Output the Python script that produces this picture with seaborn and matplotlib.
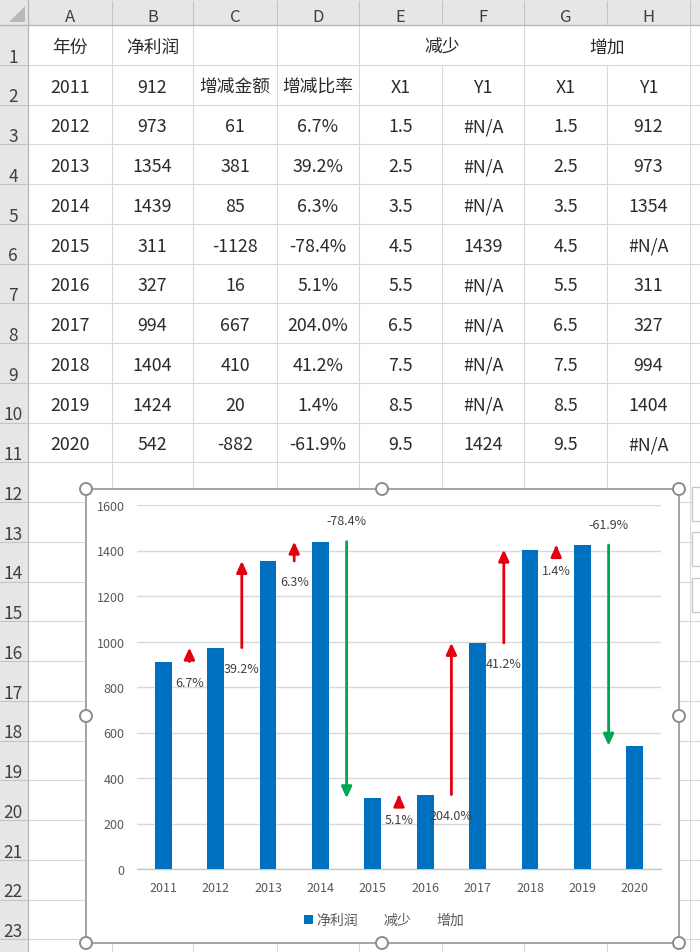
import matplotlib
matplotlib.use('Agg')
import matplotlib.pyplot as plt
import numpy as np
import pandas as pd
import seaborn as sns
from matplotlib.patches import Rectangle, Circle, Polygon, Patch
from matplotlib.lines import Line2D

# ---------------- data ----------------
years = [2011, 2012, 2013, 2014, 2015, 2016, 2017, 2018, 2019, 2020]
profit = [912, 973, 1354, 1439, 311, 327, 994, 1404, 1424, 542]
change_amt = [61, 381, 85, -1128, 16, 667, 410, 20, -882]
change_pct = ['6.7%', '39.2%', '6.3%', '-78.4%', '5.1%', '204.0%', '41.2%', '1.4%', '-61.9%']
x1 = [1.5, 2.5, 3.5, 4.5, 5.5, 6.5, 7.5, 8.5, 9.5]
dec_y1 = [None, None, None, 1439, None, None, None, None, 1424]
inc_y1 = [912, 973, 1354, None, 311, 327, 994, 1404, None]
col_letters = ['A', 'B', 'C', 'D', 'E', 'F', 'G', 'H']
row1_texts = ['年份', '净利润', '', '']
row1_merged = ['减少', '增加']
row2_texts = ['增减金额', '增减比率', 'X1', 'Y1', 'X1', 'Y1']
legend_labels = ['净利润', '减少', '增加']

# ---------------- style ----------------
W, H = 700, 953
sns.set_theme(style='white')
plt.rcParams['font.family'] = ['Noto Sans CJK SC', 'DejaVu Sans']

BLUE = '#0070c0'
RED = '#e3000f'
GREEN = '#00a650'
GRID = '#d9d9d9'
HDR_BG = '#e6e6e6'
HDR_LINE = '#c4c4c4'
CELL_TXT = '#2b2b2b'
HDR_TXT = '#404040'
CHART_TXT = '#595959'

fig = plt.figure(figsize=(W / 100, H / 100), dpi=100)
sheet = fig.add_axes([0, 0, 1, 1])
sheet.set_xlim(0, W)
sheet.set_ylim(H, 0)
sheet.axis('off')

col_edges = [28, 112, 193, 277, 359, 442, 524, 607, 690]
HEAD_H = 26
ROW_H = 39.75
N_ROWS = 24


def row_top(k):
    return HEAD_H + ROW_H * (k - 1)


# headers background
sheet.add_patch(Rectangle((0, 0), W, HEAD_H, facecolor=HDR_BG, edgecolor='none', zorder=1))
sheet.add_patch(Rectangle((0, 0), col_edges[0], H, facecolor=HDR_BG, edgecolor='none', zorder=1))
# corner triangle
sheet.add_patch(Polygon([[9, 23], [25, 23], [25, 7]], closed=True, facecolor='#b9b9b9',
                        edgecolor='none', zorder=2))

# grid lines
for k in range(1, N_ROWS + 1):
    yb = row_top(k) + ROW_H
    sheet.plot([col_edges[0], W], [yb, yb], color=GRID, lw=0.8, zorder=2)
    sheet.plot([0, col_edges[0]], [yb, yb], color=HDR_LINE, lw=0.8, zorder=2)
for j, xe in enumerate(col_edges[1:], start=1):
    ystart = HEAD_H
    if xe in (442, 607):
        ystart = row_top(2)
    sheet.plot([xe, xe], [ystart, H], color=GRID, lw=0.8, zorder=2)
    sheet.plot([xe, xe], [2, HEAD_H], color=HDR_LINE, lw=0.8, zorder=2)
sheet.plot([0, W], [HEAD_H, HEAD_H], color='#b5b5b5', lw=0.9, zorder=3)
sheet.plot([col_edges[0], col_edges[0]], [0, H], color='#b5b5b5', lw=0.9, zorder=3)

# column letters
for j, letter in enumerate(col_letters):
    cx = (col_edges[j] + col_edges[j + 1]) / 2
    sheet.text(cx, 17, letter, ha='center', va='center', fontsize=12, color=HDR_TXT, zorder=4)
# row numbers
for k in range(1, N_ROWS + 1):
    yb = row_top(k) + ROW_H
    if yb - 9 < H:
        sheet.text(13, yb - 8, str(k), ha='center', va='center', fontsize=12.5, color=HDR_TXT, zorder=4)


def cell(j, k, txt):
    cx = (col_edges[j] + col_edges[j + 1]) / 2
    cy = row_top(k) + ROW_H / 2 + 2
    sheet.text(cx, cy, txt, ha='center', va='center', fontsize=12.8, color=CELL_TXT, zorder=4)


for j, t in enumerate(row1_texts):
    if t:
        cell(j, 1, t)
for m, t in enumerate(row1_merged):
    cx = col_edges[4 + 2 * m + 1]
    sheet.text(cx, row_top(1) + ROW_H / 2 + 2, t, ha='center', va='center', fontsize=12.8,
               color=CELL_TXT, zorder=4)
cell(0, 2, str(years[0]))
cell(1, 2, str(profit[0]))
for j, t in enumerate(row2_texts):
    cell(2 + j, 2, t)
for i in range(len(x1)):
    k = 3 + i
    cell(0, k, str(years[i + 1]))
    cell(1, k, str(profit[i + 1]))
    cell(2, k, str(change_amt[i]))
    cell(3, k, change_pct[i])
    cell(4, k, str(x1[i]))
    cell(5, k, '#N/A' if dec_y1[i] is None else str(dec_y1[i]))
    cell(6, k, str(x1[i]))
    cell(7, k, '#N/A' if inc_y1[i] is None else str(inc_y1[i]))

# chart frame
CX0, CY0, CX1, CY1 = 86, 490, 679, 944
sheet.add_patch(Rectangle((CX0, CY0), CX1 - CX0, CY1 - CY0, facecolor='white', edgecolor='#a3a3a3',
                          lw=1.4, zorder=5))
mx, my = (CX0 + CX1) / 2 - 0.5, (CY0 + CY1) / 2
for (hx, hy) in [(CX0, CY0), (mx, CY0), (CX1, CY0), (CX0, my), (CX1, my),
                 (CX0, CY1), (mx, CY1), (CX1, CY1)]:
    sheet.add_patch(Circle((hx, hy), 6, facecolor='white', edgecolor='#8c8c8c', lw=1.4, zorder=6))
# chart side buttons
for by in [488, 533, 579]:
    sheet.add_patch(Rectangle((692, by), 20, 34, facecolor='white', edgecolor='#c6c6c6', lw=0.9, zorder=5))

# ---------------- chart ----------------
PX0, PX1, PY0, PY1 = 137, 661, 506, 870
ax = fig.add_axes([PX0 / W, 1 - PY1 / H, (PX1 - PX0) / W, (PY1 - PY0) / H])
ax.patch.set_alpha(0)
df = pd.DataFrame({'year': [str(y) for y in years], 'profit': profit})
sns.barplot(data=df, x='year', y='profit', color=BLUE, saturation=1, width=0.32,
            linewidth=0, ax=ax, zorder=3)
ax.set_xlim(-0.5, len(years) - 0.5)
ax.set_ylim(0, 1600)
ax.set_yticks(np.arange(0, 1601, 200))
ax.yaxis.grid(True, color=GRID, lw=1)
ax.xaxis.grid(False)
ax.set_axisbelow(True)
for s in ['left', 'right', 'top']:
    ax.spines[s].set_visible(False)
ax.spines['bottom'].set_color('#c8c8c8')
ax.spines['bottom'].set_linewidth(1)
ax.tick_params(axis='both', length=0, labelsize=9, colors=CHART_TXT)
ax.tick_params(axis='y', pad=9)
ax.tick_params(axis='x', pad=9)
ax.set_xlabel('')
ax.set_ylabel('')

arrow_style = '-|>,head_length=0.48,head_width=0.22'
for xi, ys, d, pct in zip(x1, inc_y1, change_amt, change_pct):
    if ys is None:
        continue
    xp = xi - 1
    ax.annotate('', xy=(xp, ys + d), xytext=(xp, ys),
                arrowprops=dict(arrowstyle=arrow_style, color=RED, lw=2.0, shrinkA=0, shrinkB=0,
                                mutation_scale=14), zorder=4)
    ax.annotate(pct, xy=(xp, ys), xytext=(0, -15), textcoords='offset points', ha='center',
                va='center', fontsize=9, color='#404040', zorder=5)
for xi, ys, d, pct in zip(x1, dec_y1, change_amt, change_pct):
    if ys is None:
        continue
    xp = xi - 1
    ax.annotate('', xy=(xp, ys + d), xytext=(xp, ys),
                arrowprops=dict(arrowstyle=arrow_style, color=GREEN, lw=2.0, shrinkA=0, shrinkB=0,
                                mutation_scale=14), zorder=4)
    ax.annotate(pct, xy=(xp, ys), xytext=(0, 15), textcoords='offset points', ha='center',
                va='center', fontsize=9, color='#404040', zorder=5)

handles = [Patch(facecolor=BLUE, edgecolor='none'),
           Line2D([], [], lw=0), Line2D([], [], lw=0)]
ax.legend(handles, legend_labels, loc='center', bbox_to_anchor=(384 / W, 1 - 921 / H),
          bbox_transform=fig.transFigure, ncol=3, frameon=False, fontsize=10,
          handlelength=0.6, handleheight=0.6, handletextpad=0.3, columnspacing=0.9,
          labelcolor=CHART_TXT)

fig.savefig('out.png', dpi=100)
